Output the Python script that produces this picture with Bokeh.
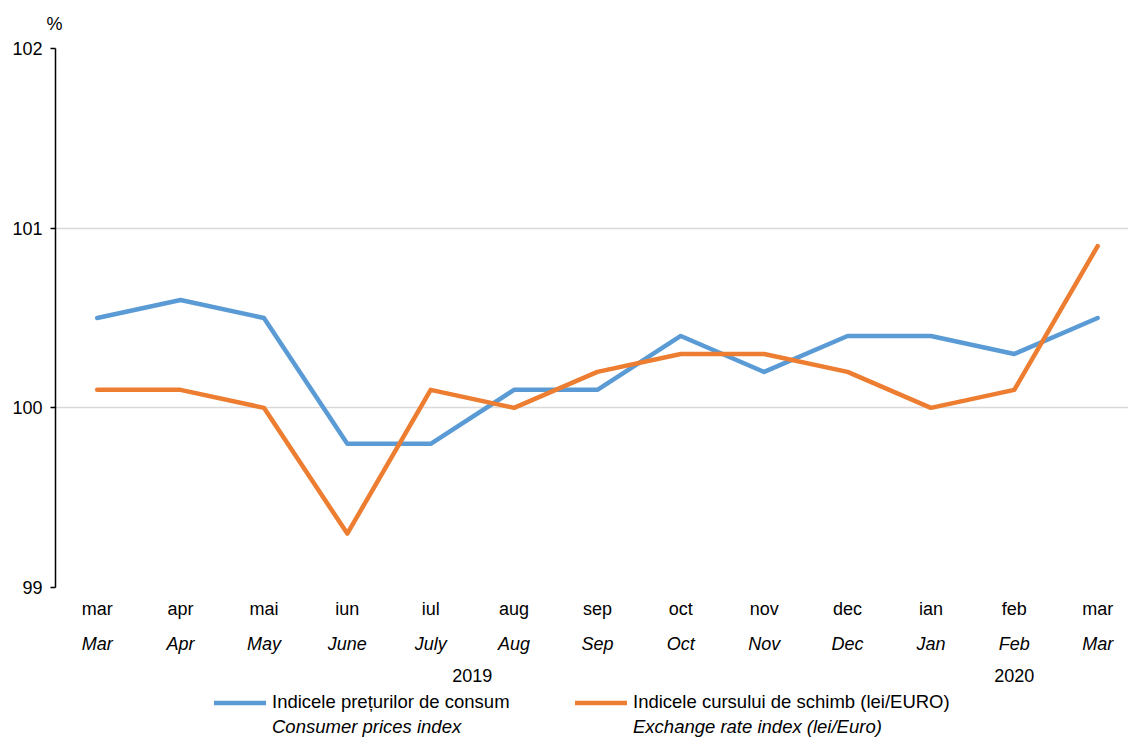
from bokeh.plotting import figure
from bokeh.layouts import column
from bokeh.models import (LinearAxis, FixedTicker, Range1d, Legend, LegendItem, Title)
from bokeh.embed import file_html
from bokeh.resources import INLINE

months_ro = ["mar", "apr", "mai", "iun", "iul", "aug", "sep", "oct", "nov", "dec", "ian", "feb", "mar"]
months_en = ["Mar", "Apr", "May", "June", "July", "Aug", "Sep", "Oct", "Nov", "Dec", "Jan", "Feb", "Mar"]
years = ["2019", "2020"]
year_pos = [4.5, 11]
cpi = [100.5, 100.6, 100.5, 99.8, 99.8, 100.1, 100.1, 100.4, 100.2, 100.4, 100.4, 100.3, 100.5]
fx = [100.1, 100.1, 100.0, 99.3, 100.1, 100.0, 100.2, 100.3, 100.3, 100.2, 100.0, 100.1, 100.9]
y_ticks = [99, 100, 101, 102]
series_ro = ["Indicele prețurilor de consum", "Indicele cursului de schimb (lei/EURO)"]
series_en = ["Consumer prices index", "Exchange rate index (lei/Euro)"]

FONT = "Liberation Sans"
FS = "18px"
FS_LEG = "18.5px"
BLUE = "#5B9BD5"
ORANGE = "#ED7D31"
LW = 4.5
NAN = float("nan")

idx = list(range(len(months_ro)))

p = figure(width=1131, height=686, output_backend="svg", toolbar_location=None,
           x_range=Range1d(-0.5, 12.37), y_range=Range1d(99, 102),
           min_border_left=55, min_border_right=3, min_border_top=47, min_border_bottom=99)
p.outline_line_color = None
p.background_fill_color = "white"

# title "%"
p.title = Title(text="%", align="left", offset=-9, standoff=26, vertical_align="top",
                text_font=FONT, text_font_size=FS, text_font_style="normal", text_color="black")

# y axis
ya = p.yaxis[0]
ya.ticker = FixedTicker(ticks=y_ticks)
ya.axis_line_color = "black"
ya.axis_line_width = 1.5
ya.major_tick_line_color = "black"
ya.major_tick_line_width = 1.5
ya.major_tick_out = 5
ya.major_tick_in = 0
ya.minor_tick_line_color = None
ya.major_label_standoff = 8
ya.major_label_text_font = FONT
ya.major_label_text_font_size = FS
ya.major_label_text_color = "black"
p.ygrid.grid_line_color = "#D9D9D9"
p.ygrid.grid_line_width = 1.5
p.ygrid.ticker = FixedTicker(ticks=y_ticks)
p.xgrid.grid_line_color = None


def style_x(ax, style="normal", standoff=8):
    ax.axis_line_color = None
    ax.major_tick_line_color = None
    ax.minor_tick_line_color = None
    ax.major_tick_out = 0
    ax.major_tick_in = 0
    ax.major_label_standoff = standoff
    ax.major_label_text_font = FONT
    ax.major_label_text_font_size = FS
    ax.major_label_text_font_style = style
    ax.major_label_text_color = "black"


xa = p.xaxis[0]
xa.ticker = FixedTicker(ticks=idx)
xa.major_label_overrides = {i: m for i, m in zip(idx, months_ro)}
style_x(xa, "normal", 11)

xa2 = LinearAxis(ticker=FixedTicker(ticks=idx),
                 major_label_overrides={i: m for i, m in zip(idx, months_en)})
style_x(xa2, "italic", 12)
p.add_layout(xa2, "below")

xa3 = LinearAxis(ticker=FixedTicker(ticks=year_pos),
                 major_label_overrides={v: t for v, t in zip(year_pos, years)})
style_x(xa3, "normal", 12)
p.add_layout(xa3, "below")

p.line(idx, cpi, line_color=BLUE, line_width=LW, line_cap="round", line_join="round")
p.line(idx, fx, line_color=ORANGE, line_width=LW, line_cap="round", line_join="round")

# ---- legend strip under the chart ----
lf = figure(width=1131, height=53, output_backend="svg", toolbar_location=None,
            x_range=Range1d(0, 1), y_range=Range1d(0, 1),
            x_axis_location=None, y_axis_location=None, min_border=0)
lf.outline_line_color = None
lf.xgrid.grid_line_color = None
lf.ygrid.grid_line_color = None

# legend keys only (a single NaN point draws nothing in the strip itself)
k1 = lf.line([NAN], [NAN], line_color=BLUE, line_width=LW, line_cap="round")
k2 = lf.line([NAN], [NAN], line_color=ORANGE, line_width=LW, line_cap="round")
d1 = lf.line([NAN], [NAN], line_alpha=0, line_width=LW)
d2 = lf.line([NAN], [NAN], line_alpha=0, line_width=LW)


def make_legend(items, style, loc):
    return Legend(items=items, orientation="horizontal", location=loc,
                  glyph_width=52, glyph_height=21, label_standoff=6,
                  label_width=288, label_height=21, spacing=15,
                  padding=0, margin=0, border_line_color=None,
                  background_fill_alpha=0,
                  label_text_font=FONT, label_text_font_size=FS_LEG,
                  label_text_font_style=style, label_text_color="black")


leg1 = make_legend([LegendItem(label=series_ro[0], renderers=[k1]),
                    LegendItem(label=series_ro[1], renderers=[k2])], "normal", (159, 26))
leg2 = make_legend([LegendItem(label=series_en[0], renderers=[d1]),
                    LegendItem(label=series_en[1], renderers=[d2])], "italic", (159, 1))
lf.add_layout(leg1, "center")
lf.add_layout(leg2, "center")

layout = column(p, lf, spacing=0)
open("out.html", "w").write(file_html(layout, INLINE))
